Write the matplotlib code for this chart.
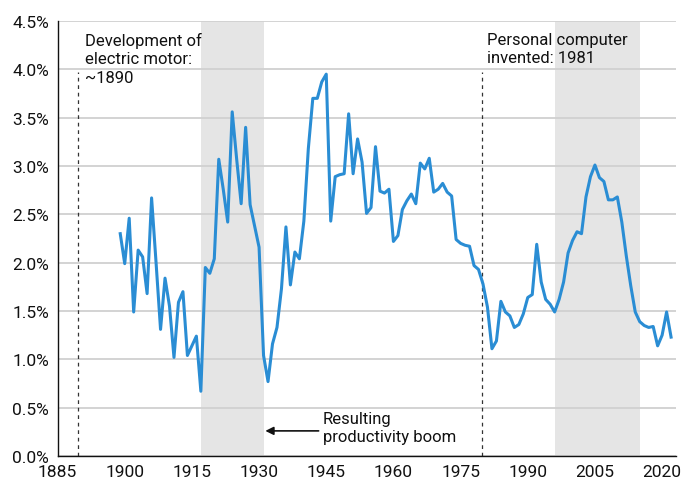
import matplotlib
matplotlib.use("Agg")
import matplotlib.pyplot as plt
import numpy as np

# ---- data ----
years = np.arange(1899, 2023)
growth = [
    2.30, 1.99, 2.46, 1.49, 2.13, 2.06, 1.68, 2.67, 2.00, 1.31,   # 1899-1908
    1.84, 1.55, 1.02, 1.59, 1.70, 1.04, 1.14, 1.24, 0.67, 1.95,   # 1909-1918
    1.89, 2.04, 3.07, 2.76, 2.42, 3.56, 3.07, 2.61, 3.40, 2.60,   # 1919-1928
    2.38, 2.16, 1.04, 0.77, 1.16, 1.33, 1.73, 2.37, 1.77, 2.11,   # 1929-1938
    2.04, 2.43, 3.18, 3.70, 3.70, 3.87, 3.95, 2.43, 2.89, 2.91,   # 1939-1948
    2.92, 3.54, 2.92, 3.28, 3.04, 2.51, 2.57, 3.20, 2.74, 2.72,   # 1949-1958
    2.76, 2.22, 2.28, 2.55, 2.64, 2.71, 2.61, 3.03, 2.97, 3.08,   # 1959-1968
    2.73, 2.76, 2.82, 2.73, 2.69, 2.24, 2.20, 2.18, 2.17, 1.97,   # 1969-1978
    1.93, 1.78, 1.54, 1.11, 1.19, 1.60, 1.49, 1.45, 1.33, 1.36,   # 1979-1988
    1.47, 1.64, 1.67, 2.19, 1.80, 1.62, 1.57, 1.49, 1.62, 1.80,   # 1989-1998
    2.10, 2.23, 2.32, 2.30, 2.68, 2.89, 3.01, 2.88, 2.84, 2.65,   # 1999-2008
    2.65, 2.68, 2.42, 2.07, 1.76, 1.49, 1.39, 1.35, 1.33, 1.34,   # 2009-2018
    1.14, 1.25, 1.49, 1.23,                                       # 2019-2022
]
booms = [(1917, 1931), (1996, 2015)]
events = [1889.6, 1979.7]
x_ticks = [1885, 1900, 1915, 1930, 1945, 1960, 1975, 1990, 2005, 2020]
y_ticks = [0.0, 0.5, 1.0, 1.5, 2.0, 2.5, 3.0, 3.5, 4.0, 4.5]

plt.rcParams["font.family"] = ["Roboto", "DejaVu Sans"]

fig = plt.figure(figsize=(6.81, 4.89), dpi=100)
ax = fig.add_axes([0.0845, 0.0654, 0.9075, 0.8896])

for x0, x1 in booms:
    ax.axvspan(x0, x1, color="#e5e5e5", lw=0, zorder=0)

ax.set_yticks(y_ticks)
ax.yaxis.grid(True, color="#d0d0d0", lw=1.3, zorder=1)
ax.set_axisbelow(True)

for ev in events:
    ax.vlines(ev, 0, 3.97, colors="#333333", linestyles=(0, (3, 3)), lw=0.9, zorder=2)

ax.plot(years, growth, color="#2a8dd4", lw=2.2, zorder=3)

ax.set_xlim(1885, 2023)
ax.set_ylim(0, 4.5)
ax.set_xticks(x_ticks)
ax.set_yticklabels([f"{v:.1f}%" for v in y_ticks])
ax.tick_params(axis="both", length=0, labelsize=12.5, colors="#111111")
ax.tick_params(axis="x", pad=6)
ax.tick_params(axis="y", pad=6)

for s in ["top", "right"]:
    ax.spines[s].set_visible(False)
for s in ["left", "bottom"]:
    ax.spines[s].set_color("#111111")
    ax.spines[s].set_linewidth(1.0)

txt = dict(fontsize=12, color="#111111", va="top", ha="left", linespacing=1.3)
ax.text(1891.2, 4.39, "Development of\nelectric motor:\n~1890", **txt)
ax.text(1981.0, 4.39, "Personal computer\ninvented: 1981", **txt)
ax.text(1944.3, 0.47, "Resulting\nproductivity boom", **txt)
ax.annotate("", xy=(1931.4, 0.26), xytext=(1943.3, 0.26),
            arrowprops=dict(arrowstyle="-|>", color="#111111", lw=1.2,
                            mutation_scale=12, shrinkA=0, shrinkB=0))

fig.savefig("out.png", dpi=100, facecolor="white")
